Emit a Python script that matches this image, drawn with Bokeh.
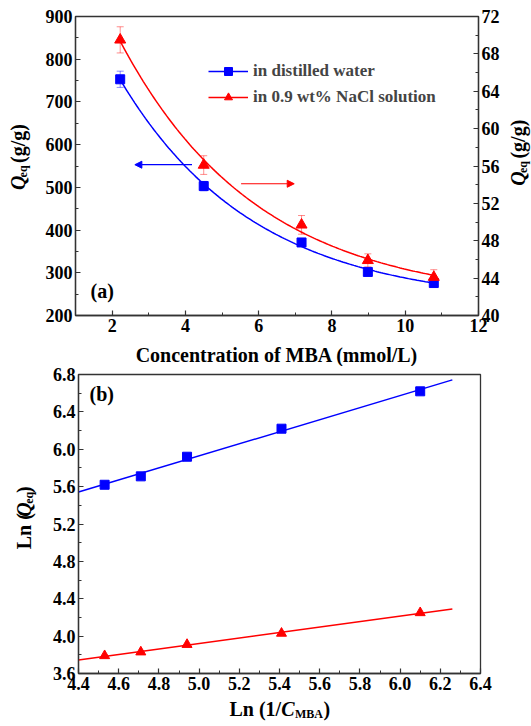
import numpy as np
from bokeh.plotting import figure
from bokeh.models import (Range1d, LinearAxis, Label, Arrow, NormalHead, Whisker, TeeHead,
                          ColumnDataSource, Legend, LegendItem, FixedTicker, NumeralTickFormatter)
from bokeh.layouts import column, row
from bokeh.embed import file_html
from bokeh.resources import INLINE

# ---------------- data ----------------
mba_conc = [2.22, 4.50, 7.17, 8.98, 10.78]          # mmol/L
q_water = [753, 503, 371, 302, 276]                 # g/g (left axis)
q_water_err = [19, 11, 6, 5, 5]
q_nacl = [69.5, 56.1, 49.7, 45.9, 44.1]             # g/g (right axis)
q_nacl_err = [1.4, 1.0, 1.0, 0.7, 0.8]

ln_inv_c = [6.10, 5.41, 4.94, 4.71, 4.53]
ln_q_water = [6.62, 6.22, 5.92, 5.71, 5.62]
ln_q_nacl = [4.25, 4.03, 3.91, 3.83, 3.79]

top_x_ticks = [2, 4, 6, 8, 10, 12]
top_x_minor = [1, 3, 5, 7, 9, 11]
top_yl_ticks = [200, 300, 400, 500, 600, 700, 800, 900]
top_yl_minor = [250, 350, 450, 550, 650, 750, 850]
top_yr_ticks = [40, 44, 48, 52, 56, 60, 64, 68, 72]
top_yr_minor = [42, 46, 50, 54, 58, 62, 66, 70]
bot_x_ticks = [4.4, 4.6, 4.8, 5.0, 5.2, 5.4, 5.6, 5.8, 6.0, 6.2, 6.4]
bot_x_minor = [4.5, 4.7, 4.9, 5.1, 5.3, 5.5, 5.7, 5.9, 6.1, 6.3]
bot_y_ticks = [3.6, 4.0, 4.4, 4.8, 5.2, 5.6, 6.0, 6.4, 6.8]
bot_y_minor = [3.8, 4.2, 4.6, 5.0, 5.4, 5.8, 6.2, 6.6]

legend_labels = ["in distilled water", "in 0.9 wt% NaCl solution"]

BLUE = "#0000ff"
RED = "#ff0000"
AX = "#333333"
FONT = "Liberation Serif"
ANG = np.pi / 2


def style_axis(ax, ticks, minor, fmt=None):
    ax.ticker = FixedTicker(ticks=ticks, minor_ticks=minor)
    ax.axis_line_color = AX
    ax.axis_line_width = 1.3
    ax.major_tick_line_color = AX
    ax.minor_tick_line_color = AX
    ax.major_tick_line_width = 1.2
    ax.minor_tick_line_width = 1.0
    ax.major_tick_in = 5
    ax.major_tick_out = 0
    ax.minor_tick_in = 3
    ax.minor_tick_out = 0
    ax.major_label_text_font = FONT
    ax.major_label_text_font_style = "bold"
    ax.major_label_text_font_size = "18px"
    ax.major_label_text_color = "black"
    ax.major_label_standoff = 3
    if fmt is not None:
        ax.formatter = fmt


def text_fig(x0, x1, y0, y1):
    """A bare figure whose data coordinates equal page pixels (y downwards)."""
    f = figure(width=x1 - x0, height=y1 - y0, output_backend="svg", toolbar_location=None,
               x_range=Range1d(x0, x1), y_range=Range1d(y1, y0),
               x_axis_location=None, y_axis_location=None, min_border=0)
    f.xgrid.visible = False
    f.ygrid.visible = False
    f.outline_line_color = None
    f.background_fill_color = "white"
    f.border_fill_color = "white"
    return f


def lab(p, text, x, y, size=20, style="bold", angle=0.0, align="left", baseline="alphabetic",
        xr="default", yr="default"):
    p.add_layout(Label(x=x, y=y, x_range_name=xr, y_range_name=yr, text=text,
                       text_font=FONT, text_font_style=style, text_font_size=f"{size}px",
                       text_color="black", angle=angle, text_align=align,
                       text_baseline=baseline))


def exp_decay_fit(x, y):
    x = np.asarray(x, float)
    y = np.asarray(y, float)
    best = None
    for t in np.linspace(0.5, 40, 800):
        m = np.column_stack([np.ones_like(x), np.exp(-x / t)])
        coef = np.linalg.lstsq(m, y, rcond=None)[0]
        r = float(np.sum((m @ coef - y) ** 2))
        if best is None or r < best[0]:
            best = (r, t, coef)
    _, t, coef = best
    return lambda xx: coef[0] + coef[1] * np.exp(-np.asarray(xx) / t)


# ---------------- top panel (a) ----------------
p1 = figure(width=467, height=341, output_backend="svg", toolbar_location=None,
            x_range=Range1d(1, 12), y_range=Range1d(200, 900),
            min_border_left=35, min_border_right=29, min_border_top=16, min_border_bottom=26)
p1.extra_y_ranges = {"right": Range1d(40, 72), "py": Range1d(315, 16)}
p1.extra_x_ranges = {"px": Range1d(75, 478)}
p1.xgrid.visible = False
p1.ygrid.visible = False
p1.outline_line_color = AX
p1.outline_line_width = 1.3
p1.background_fill_color = "white"
p1.border_fill_color = "white"
style_axis(p1.xaxis[0], top_x_ticks, top_x_minor)
style_axis(p1.yaxis[0], top_yl_ticks, top_yl_minor)
rax = LinearAxis(y_range_name="right")
style_axis(rax, top_yr_ticks, top_yr_minor)
p1.add_layout(rax, "right")

src_w = ColumnDataSource(dict(x=mba_conc, y=q_water,
                              lo=[a - b for a, b in zip(q_water, q_water_err)],
                              hi=[a + b for a, b in zip(q_water, q_water_err)]))
src_n = ColumnDataSource(dict(x=mba_conc, y=q_nacl,
                              lo=[a - b for a, b in zip(q_nacl, q_nacl_err)],
                              hi=[a + b for a, b in zip(q_nacl, q_nacl_err)]))

p1.add_layout(Whisker(source=src_w, base="x", upper="hi", lower="lo", dimension="height",
                      line_color=BLUE, line_alpha=0.45, line_width=1,
                      upper_head=TeeHead(size=7, line_color=BLUE, line_alpha=0.45),
                      lower_head=TeeHead(size=7, line_color=BLUE, line_alpha=0.45)))
p1.add_layout(Whisker(source=src_n, base="x", upper="hi", lower="lo", dimension="height",
                      y_range_name="right",
                      line_color=RED, line_alpha=0.45, line_width=1,
                      upper_head=TeeHead(size=7, line_color=RED, line_alpha=0.45),
                      lower_head=TeeHead(size=7, line_color=RED, line_alpha=0.45)))

xf = np.linspace(min(mba_conc), max(mba_conc), 150)
fw = exp_decay_fit(mba_conc, q_water)
fn = exp_decay_fit(mba_conc, q_nacl)
fit_w = p1.line(xf, fw(xf), line_color=BLUE, line_width=1.5)
fit_n = p1.line(xf, fn(xf), line_color=RED, line_width=1.5, y_range_name="right")
sc_w = p1.scatter("x", "y", source=src_w, marker="square", size=9, fill_color=BLUE, line_color=BLUE)
sc_n = p1.scatter("x", "y", source=src_n, marker="triangle", size=11, fill_color=RED,
                  line_color=RED, y_range_name="right")

legend = Legend(items=[LegendItem(label=legend_labels[0], renderers=[fit_w, sc_w]),
                       LegendItem(label=legend_labels[1], renderers=[fit_n, sc_n])],
                location=(133, 208), border_line_color=None, background_fill_alpha=0,
                padding=0, margin=0, spacing=6, glyph_width=40, glyph_height=20,
                label_height=20, label_standoff=5, label_text_font=FONT,
                label_text_font_style="bold", label_text_font_size="17px")
p1.add_layout(legend)

p1.add_layout(Arrow(end=NormalHead(size=7, fill_color=BLUE, line_color=BLUE, line_width=1),
                    x_start=4.18, y_start=553, x_end=2.62, y_end=553,
                    line_color=BLUE, line_width=1.2))
p1.add_layout(Arrow(end=NormalHead(size=7, fill_color=RED, line_color=RED, line_width=1),
                    x_start=5.52, y_start=54.1, x_end=6.97, y_end=54.1, y_range_name="right",
                    line_color=RED, line_width=1.2))

lab(p1, "(a)", 90, 290, xr="px", yr="py")

# side text figures for the top panel (page-pixel coordinates)
la = text_fig(0, 40, 0, 341)
lab(la, "Q", 17, 198, style="bold italic", angle=ANG)
lab(la, "eq", 22, 183.5, size=12, angle=ANG)
lab(la, "(g/g)", 17, 167, angle=ANG)

ra = text_fig(507, 531, 0, 341)
lab(ra, "Q", 517.5, 193, style="bold italic", angle=ANG)
lab(ra, "eq", 522.5, 178.5, size=12, angle=ANG)
lab(ra, "(g/g)", 517.5, 162, angle=ANG)

xt1 = text_fig(0, 531, 341, 366)
lab(xt1, "Concentration of MBA (mmol/L)", 276.5, 354, align="center")

# ---------------- bottom panel (b) ----------------
p2 = figure(width=491, height=332, output_backend="svg", toolbar_location=None,
            x_range=Range1d(4.4, 6.4), y_range=Range1d(3.6, 6.8),
            min_border_left=38, min_border_right=51, min_border_top=8, min_border_bottom=25)
p2.extra_x_ranges = {"px": Range1d(78, 480)}
p2.extra_y_ranges = {"py": Range1d(673, 374)}
p2.xgrid.visible = False
p2.ygrid.visible = False
p2.outline_line_color = AX
p2.outline_line_width = 1.3
p2.background_fill_color = "white"
p2.border_fill_color = "white"
style_axis(p2.xaxis[0], bot_x_ticks, bot_x_minor, NumeralTickFormatter(format="0.0"))
style_axis(p2.yaxis[0], bot_y_ticks, bot_y_minor, NumeralTickFormatter(format="0.0"))

xl = np.array([4.4, 6.26])
lw = np.polyfit(ln_inv_c, ln_q_water, 1)
ln_ = np.polyfit(ln_inv_c, ln_q_nacl, 1)
p2.line(xl, np.polyval(lw, xl), line_color=BLUE, line_width=1.5)
p2.line(xl, np.polyval(ln_, xl), line_color=RED, line_width=1.5)
p2.scatter(ln_inv_c, ln_q_water, marker="square", size=9, fill_color=BLUE, line_color=BLUE)
p2.scatter(ln_inv_c, ln_q_nacl, marker="triangle", size=10, fill_color=RED, line_color=RED)

lab(p2, "(b)", 89, 393, xr="px", yr="py")

lb = text_fig(0, 40, 366, 698)
lab(lb, "Ln (", 23, 560, angle=ANG)
lab(lb, "Q", 23, 524, style="bold italic", angle=ANG)
lab(lb, "eq", 28, 509.5, size=12, angle=ANG)
lab(lb, ")", 23, 497.5, angle=ANG)

xt2 = text_fig(0, 531, 698, 726)
lab(xt2, "Ln (1/", 229, 708)
lab(xt2, "C", 280.7, 708, style="bold italic")
lab(xt2, "MBA", 294.5, 713, size=12)
lab(xt2, ")", 323, 708)

layout = column(row(la, p1, ra, spacing=0), xt1,
                row(lb, p2, spacing=0), xt2, spacing=0)
open("out.html", "w").write(file_html(layout, INLINE))
